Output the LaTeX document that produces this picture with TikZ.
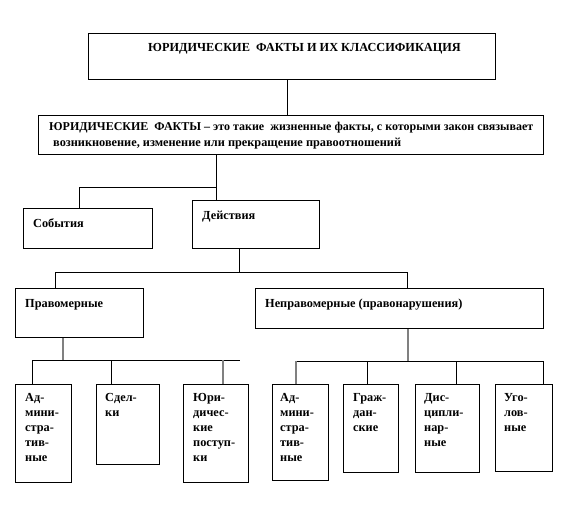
\documentclass[tikz,border=0pt]{standalone}
\usepackage{fontspec}
\setmainfont{Liberation Serif}
\begin{document}
\begin{tikzpicture}[x=1pt,y=-1pt,
  box/.style={draw=black,line width=1pt,anchor=north west,inner sep=0pt,fill=white},
  txt/.style={anchor=base west,inner sep=0pt,font=\bfseries\fontsize{12.3}{15}\selectfont},
  conn/.style={draw=black,line width=1pt},
  gconn/.style={draw=black!50,line width=1.6pt}]
\useasboundingbox[fill=white] (0,0) rectangle (584,504);
% boxes
\node[box,minimum width=407pt,minimum height=46pt] (title) at (88,33) {};
\node[box,minimum width=505pt,minimum height=39pt] (def) at (38,115) {};
\node[box,minimum width=129pt,minimum height=40pt] (events) at (23,208) {};
\node[box,minimum width=127pt,minimum height=48pt] (actions) at (192,200) {};
\node[box,minimum width=128pt,minimum height=49pt] (lawful) at (15,288) {};
\node[box,minimum width=288pt,minimum height=40pt] (unlawful) at (255,288) {};
\node[box,minimum width=56pt,minimum height=98pt] (b1) at (15,384) {};
\node[box,minimum width=63pt,minimum height=80pt] (b2) at (96,384) {};
\node[box,minimum width=65pt,minimum height=98pt] (b3) at (183,384) {};
\node[box,minimum width=56pt,minimum height=96pt] (b4) at (272,384) {};
\node[box,minimum width=55pt,minimum height=88pt] (b5) at (343,384) {};
\node[box,minimum width=64pt,minimum height=88pt] (b6) at (415,384) {};
\node[box,minimum width=57pt,minimum height=87pt] (b7) at (495,384) {};
% texts
\node[txt] (ttitle) at (148,51) {ЮРИДИЧЕСКИЕ\ \ ФАКТЫ И ИХ КЛАССИФИКАЦИЯ};
\node[txt,font=\bfseries\fontsize{12}{15}\selectfont] (tdef1) at (49,130) {ЮРИДИЧЕСКИЕ\ \ ФАКТЫ – это такие\ \ жизненные факты, с которыми закон связывает};
\node[txt] (tdef2) at (53,146) {возникновение, изменение или прекращение правоотношений};
\node[txt] (tevents) at (33,227) {События};
\node[txt] (tactions) at (202,219) {Действия};
\node[txt] (tlawful) at (25,307) {Правомерные};
\node[txt] (tunlawful) at (265,307) {Неправомерные (правонарушения)};
\node[txt,align=left,anchor=north west] (tb1) at (25,393) {Ад-\\мини-\\стра-\\тив-\\ные};
\node[txt,align=left,anchor=north west] (tb2) at (105,393) {Сдел-\\ки};
\node[txt,align=left,anchor=north west] (tb3) at (193,393) {Юри-\\дичес-\\кие\\поступ-\\ки};
\node[txt,align=left,anchor=north west] (tb4) at (280,393) {Ад-\\мини-\\стра-\\тив-\\ные};
\node[txt,align=left,anchor=north west] (tb5) at (353,393) {Граж-\\дан-\\ские};
\node[txt,align=left,anchor=north west] (tb6) at (424,393) {Дис-\\ципли-\\нар-\\ные};
\node[txt,align=left,anchor=north west] (tb7) at (504,393) {Уго-\\лов-\\ные};
% connectors
\coordinate (c1) at (287,97);
\draw[conn] (c1 |- title.south) -- (c1 |- def.north);
\coordinate (j1) at (216,187);
\coordinate (e1) at (79,187);
\draw[conn] (j1 |- def.south) -- (j1 |- actions.north);
\draw[conn] (j1) -- (e1) -- (e1 |- events.north);
\coordinate (j2) at (239,272);
\coordinate (l2) at (55,272);
\coordinate (r2) at (407,272);
\draw[conn] (j2 |- actions.south) -- (j2);
\draw[conn] (l2 |- lawful.north) -- (l2) -- (r2) -- (r2 |- unlawful.north);
% lawful bus
\coordinate (j3) at (63,360);
\coordinate (k1) at (32,360);
\coordinate (k2) at (111,360);
\coordinate (k3) at (223,360);
\coordinate (k3e) at (240,360);
\draw[conn] (k1) -- (k3e);
\draw[conn] (k1) -- (k1 |- b1.north);
\draw[conn] (k2) -- (k2 |- b2.north);
\draw[gconn] (j3 |- lawful.south) -- (j3);
\draw[gconn] (k3) -- (k3 |- b3.north);
% unlawful bus
\coordinate (j4) at (408,361);
\coordinate (k4) at (296,361);
\coordinate (k5) at (367,361);
\coordinate (k6) at (456,361);
\coordinate (k7) at (543,361);
\draw[conn] (k4) -- (k7);
\draw[conn] (k5) -- (k5 |- b5.north);
\draw[conn] (k6) -- (k6 |- b6.north);
\draw[conn] (k7) -- (k7 |- b7.north);
\draw[gconn] (j4 |- unlawful.south) -- (j4);
\draw[gconn] (k4) -- (k4 |- b4.north);
\end{tikzpicture}
\end{document}
